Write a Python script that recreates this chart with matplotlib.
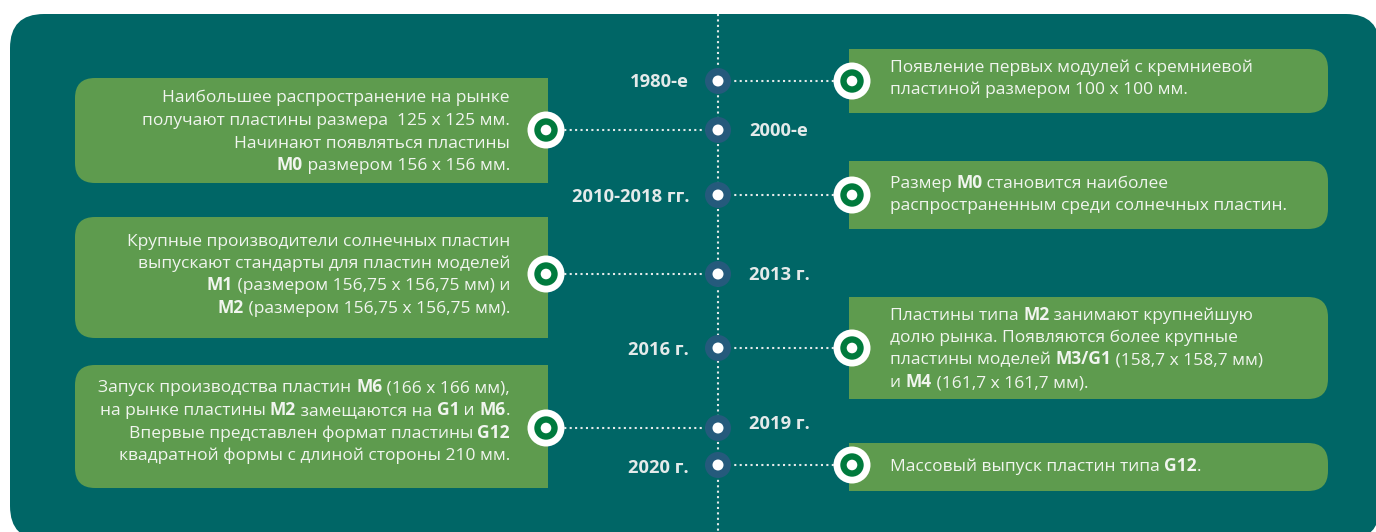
import re
import matplotlib
matplotlib.use("Agg")
import matplotlib.pyplot as plt
from matplotlib.patches import FancyBboxPatch, Rectangle, Circle

# ---------------- data ----------------
years = ["1980-е", "2000-е", "2010-2018 гг.", "2013 г.", "2016 г.", "2019 г.", "2020 г."]
sides = ["right", "left", "right", "left", "right", "left", "right"]
texts = [
    "Появление первых модулей с кремниевой\nпластиной размером 100 х 100 мм.",
    "Наибольшее распространение на рынке\nполучают пластины размера  125 х 125 мм.\n"
    "Начинают появляться пластины\n**М0** размером 156 х 156 мм.",
    "Размер **М0** становится наиболее\nраспространенным среди солнечных пластин.",
    "Крупные производители солнечных пластин\nвыпускают стандарты для пластин моделей\n"
    "**М1** (размером 156,75 х 156,75 мм) и\n**М2** (размером 156,75 х 156,75 мм).",
    "Пластины типа **М2** занимают крупнейшую\nдолю рынка. Появляются более крупные\n"
    "пластины моделей **М3/G1** (158,7 х 158,7 мм)\nи **М4** (161,7 х 161,7 мм).",
    "Запуск производства пластин **М6** (166 х 166 мм),\nна рынке пластины **М2** замещаются на **G1** и **М6**.\n"
    "Впервые представлен формат пластины **G12**\nквадратной формы с длиной стороны 210 мм.",
    "Массовый выпуск пластин типа **G12**.",
]

# ---------------- layout (pixels) ----------------
dot_y = [81, 130, 195, 274, 348, 428, 465]
label_y = [82, 131, 197, 275, 350, 424, 468]
box_top = [49, 78, 161, 217, 297, 365, 443]
box_bot = [113, 183, 229, 338, 399, 488, 491]
text_cy = [77, 130, 193, 273, 347, 420, 465]

W, H = 1376, 532
XC = 718
L_BOX = (75, 548)
R_BOX = (849, 1328)
L_CIRC, R_CIRC = 546, 852
L_TEXT, R_TEXT = 510, 890

TEAL = "#006666"
BOXG = "#5e9b4e"
RING = "#007a3d"
DOTB = "#255a7c"
WHITE = "#ffffff"
TXT = "#f1f5ef"
LBL = "#e4eaea"
FONT = ["Open Sans", "DejaVu Sans"]
FS = 12.5
LFS = 13.2
LINE = 22.5

fig = plt.figure(figsize=(W / 100, H / 100), dpi=100)
fig.patch.set_facecolor("white")
ax = fig.add_axes([0, 0, 1, 1])
ax.set_xlim(0, W)
ax.set_ylim(H, 0)
ax.axis("off")

# panel
ax.add_patch(FancyBboxPatch((10 + 34, 14 + 34), 1380 - 10 - 68, 540 - 14 - 68,
                            boxstyle="round,pad=34", fc=TEAL, ec="none", zorder=0))

# vertical dotted line
ax.plot([XC, XC], [14, H + 5], color=LBL, lw=1.5, ls=(0, (1, 1.6)), zorder=2,
        solid_capstyle="butt", dash_capstyle="butt")

renderer = fig.canvas.get_renderer()


def width(s, bold, fs):
    t = ax.text(0, 0, "|" + s + "|", fontsize=fs, family=FONT,
                fontweight="bold" if bold else "normal")
    w1 = t.get_window_extent(renderer).width
    t.set_text("||")
    w2 = t.get_window_extent(renderer).width
    t.remove()
    return w1 - w2


def rich_line(line, x, yc, align, fs):
    parts = [p for p in re.split(r"(\*\*.*?\*\*)", line) if p]
    segs = [(p[2:-2], True) if p.startswith("**") else (p, False) for p in parts]
    widths = [width(s, b, fs) for s, b in segs]
    total = sum(widths)
    cx = x - total if align == "right" else x
    base = yc + fs * 100 / 72 * 0.36
    for (s, b), w in zip(segs, widths):
        ax.text(cx, base, s, fontsize=fs, family=FONT, color=TXT,
                fontweight="bold" if b else "normal", ha="left", va="baseline", zorder=5)
        cx += w


for i in range(len(years)):
    side = sides[i]
    y = dot_y[i]
    top, bot = box_top[i], box_bot[i]
    r = 20
    if side == "left":
        x0, x1 = L_BOX
        ax.add_patch(FancyBboxPatch((x0 + r, top + r), x1 - x0 - 2 * r, bot - top - 2 * r,
                                    boxstyle=f"round,pad={r}", fc=BOXG, ec="none", zorder=1))
        ax.add_patch(Rectangle((x1 - 3 * r, top), 3 * r, bot - top, fc=BOXG, ec="none", zorder=1))
        cxr = L_CIRC
    else:
        x0, x1 = R_BOX
        ax.add_patch(FancyBboxPatch((x0 + r, top + r), x1 - x0 - 2 * r, bot - top - 2 * r,
                                    boxstyle=f"round,pad={r}", fc=BOXG, ec="none", zorder=1))
        ax.add_patch(Rectangle((x0, top), 3 * r, bot - top, fc=BOXG, ec="none", zorder=1))
        cxr = R_CIRC
    # connector
    ax.plot([XC, cxr], [y, y], color=LBL, lw=1.5, ls=(0, (1, 1.6)), zorder=2,
            dash_capstyle="butt")
    # timeline dot
    ax.add_patch(Circle((XC, y), 13, fc=DOTB, ec="none", zorder=3))
    ax.add_patch(Circle((XC, y), 5.5, fc=WHITE, ec="none", zorder=4))
    # ring marker
    ax.add_patch(Circle((cxr, y), 18.5, fc=WHITE, ec="none", zorder=3))
    ax.add_patch(Circle((cxr, y), 11.7, fc=RING, ec="none", zorder=4))
    ax.add_patch(Circle((cxr, y), 5.3, fc=WHITE, ec="none", zorder=4))
    # year label (opposite side of the box)
    if side == "right":
        ax.text(689, label_y[i], years[i], fontsize=LFS, family=FONT, fontweight="bold",
                color=LBL, ha="right", va="center", zorder=5)
    else:
        ax.text(749, label_y[i], years[i], fontsize=LFS, family=FONT, fontweight="bold",
                color=LBL, ha="left", va="center", zorder=5)
    # box text
    lines = texts[i].split("\n")
    n = len(lines)
    for k, ln in enumerate(lines):
        yc = text_cy[i] + (k - (n - 1) / 2) * LINE
        if side == "left":
            rich_line(ln, L_TEXT, yc, "right", FS)
        else:
            rich_line(ln, R_TEXT, yc, "left", FS)

fig.savefig("out.png", dpi=100, facecolor="white")
